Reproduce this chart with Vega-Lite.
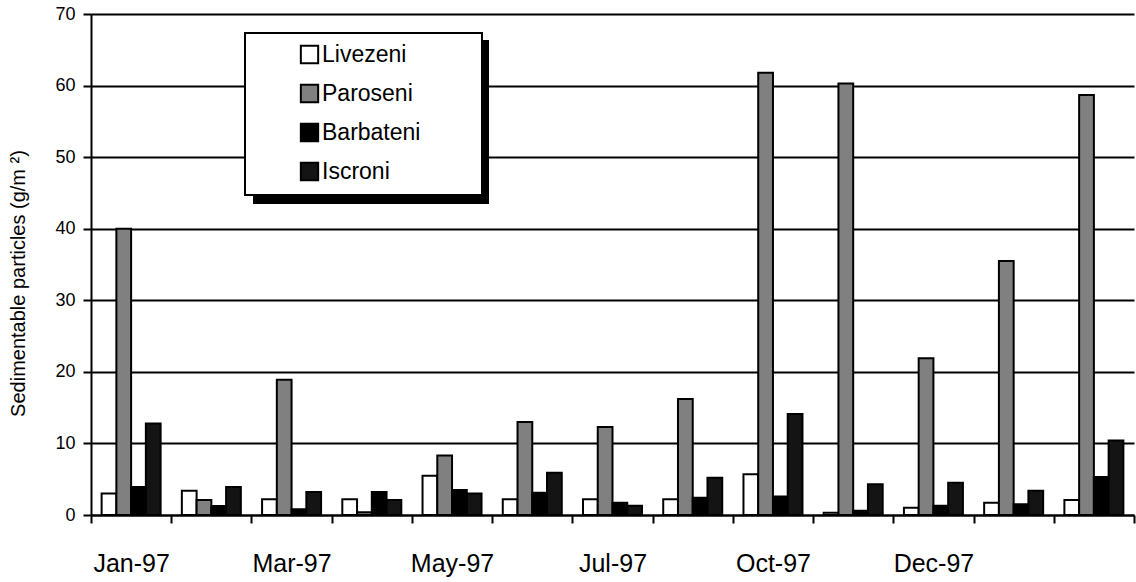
{
  "$schema": "https://vega.github.io/schema/vega-lite/v6.json",
  "width": 1043,
  "height": 501,
  "autosize": "none",
  "padding": {"left": 91, "top": 14, "right": 2, "bottom": 67},
  "background": "white",
  "config": {
    "view": {"stroke": null},
    "font": "Liberation Sans",
    "axis": {
      "domainColor": "black",
      "domainWidth": 2,
      "tickColor": "black",
      "tickWidth": 2,
      "tickSize": 8,
      "gridColor": "black",
      "gridWidth": 2,
      "gridOpacity": 1,
      "labelColor": "black",
      "labelFont": "Liberation Sans",
      "titleFont": "Liberation Sans",
      "titleColor": "black",
      "titleFontWeight": "normal"
    },
    "legend": {
      "labelFont": "Liberation Sans",
      "labelColor": "black",
      "strokeWidth": 2
    }
  },
  "data": {
    "values": [
      {"month": "Jan-97", "site": "Livezeni", "value": 3.0},
      {"month": "Jan-97", "site": "Paroseni", "value": 40.0},
      {"month": "Jan-97", "site": "Barbateni", "value": 3.9},
      {"month": "Jan-97", "site": "Iscroni", "value": 12.8},
      {"month": "Feb-97", "site": "Livezeni", "value": 3.4},
      {"month": "Feb-97", "site": "Paroseni", "value": 2.1},
      {"month": "Feb-97", "site": "Barbateni", "value": 1.25},
      {"month": "Feb-97", "site": "Iscroni", "value": 3.9},
      {"month": "Mar-97", "site": "Livezeni", "value": 2.2},
      {"month": "Mar-97", "site": "Paroseni", "value": 18.9},
      {"month": "Mar-97", "site": "Barbateni", "value": 0.8},
      {"month": "Mar-97", "site": "Iscroni", "value": 3.2},
      {"month": "Apr-97", "site": "Livezeni", "value": 2.2},
      {"month": "Apr-97", "site": "Paroseni", "value": 0.4},
      {"month": "Apr-97", "site": "Barbateni", "value": 3.2},
      {"month": "Apr-97", "site": "Iscroni", "value": 2.1},
      {"month": "May-97", "site": "Livezeni", "value": 5.5},
      {"month": "May-97", "site": "Paroseni", "value": 8.3},
      {"month": "May-97", "site": "Barbateni", "value": 3.5},
      {"month": "May-97", "site": "Iscroni", "value": 3.0},
      {"month": "Jun-97", "site": "Livezeni", "value": 2.2},
      {"month": "Jun-97", "site": "Paroseni", "value": 13.0},
      {"month": "Jun-97", "site": "Barbateni", "value": 3.1},
      {"month": "Jun-97", "site": "Iscroni", "value": 5.9},
      {"month": "Jul-97", "site": "Livezeni", "value": 2.2},
      {"month": "Jul-97", "site": "Paroseni", "value": 12.3},
      {"month": "Jul-97", "site": "Barbateni", "value": 1.7},
      {"month": "Jul-97", "site": "Iscroni", "value": 1.3},
      {"month": "Aug-97", "site": "Livezeni", "value": 2.2},
      {"month": "Aug-97", "site": "Paroseni", "value": 16.2},
      {"month": "Aug-97", "site": "Barbateni", "value": 2.4},
      {"month": "Aug-97", "site": "Iscroni", "value": 5.2},
      {"month": "Oct-97", "site": "Livezeni", "value": 5.7},
      {"month": "Oct-97", "site": "Paroseni", "value": 61.8},
      {"month": "Oct-97", "site": "Barbateni", "value": 2.6},
      {"month": "Oct-97", "site": "Iscroni", "value": 14.1},
      {"month": "Nov-97", "site": "Livezeni", "value": 0.3},
      {"month": "Nov-97", "site": "Paroseni", "value": 60.3},
      {"month": "Nov-97", "site": "Barbateni", "value": 0.6},
      {"month": "Nov-97", "site": "Iscroni", "value": 4.3},
      {"month": "Dec-97", "site": "Livezeni", "value": 1.0},
      {"month": "Dec-97", "site": "Paroseni", "value": 21.9},
      {"month": "Dec-97", "site": "Barbateni", "value": 1.3},
      {"month": "Dec-97", "site": "Iscroni", "value": 4.5},
      {"month": "Jan-98", "site": "Livezeni", "value": 1.7},
      {"month": "Jan-98", "site": "Paroseni", "value": 35.5},
      {"month": "Jan-98", "site": "Barbateni", "value": 1.5},
      {"month": "Jan-98", "site": "Iscroni", "value": 3.4},
      {"month": "Feb-98", "site": "Livezeni", "value": 2.1},
      {"month": "Feb-98", "site": "Paroseni", "value": 58.7},
      {"month": "Feb-98", "site": "Barbateni", "value": 5.3},
      {"month": "Feb-98", "site": "Iscroni", "value": 10.4}
    ]
  },
  "mark": {"type": "bar", "stroke": "black", "strokeWidth": 2},
  "encoding": {
    "x": {
      "field": "month",
      "type": "nominal",
      "sort": ["Jan-97", "Feb-97", "Mar-97", "Apr-97", "May-97", "Jun-97", "Jul-97", "Aug-97", "Oct-97", "Nov-97", "Dec-97", "Jan-98", "Feb-98"],
      "scale": {"paddingInner": 0, "paddingOuter": 0},
      "axis": {
        "title": null,
        "tickBand": "extent",
        "labelAngle": 0,
        "labelFontSize": 25,
        "labelPadding": 28,
        "labelOverlap": false,
        "labelExpr": "indexof(['Jan-97','Mar-97','May-97','Jul-97','Oct-97','Dec-97'], datum.value) >= 0 ? datum.label : ''"
      }
    },
    "xOffset": {
      "field": "site",
      "type": "nominal",
      "sort": ["Livezeni", "Paroseni", "Barbateni", "Iscroni"],
      "scale": {"paddingInner": 0, "paddingOuter": 0.72}
    },
    "y": {
      "field": "value",
      "type": "quantitative",
      "scale": {"domain": [0, 70], "nice": false},
      "axis": {
        "values": [0, 10, 20, 30, 40, 50, 60, 70],
        "title": "Sedimentable particles (g/m ²)",
        "titleFontSize": 20,
        "titleX": -73,
        "titleY": 269,
        "titleAngle": -90,
        "titleAlign": "center",
        "titleBaseline": "middle",
        "labelFontSize": 18,
        "labelPadding": 8
      }
    },
    "fill": {
      "field": "site",
      "type": "nominal",
      "scale": {
        "domain": ["Livezeni", "Paroseni", "Barbateni", "Iscroni"],
        "range": ["#ffffff", "#808080", "#000000", "#141414"]
      },
      "legend": {
        "orient": "none",
        "legendX": 154,
        "legendY": 19,
        "title": null,
        "symbolType": "square",
        "symbolSize": 300,
        "symbolStrokeColor": "black",
        "symbolStrokeWidth": 2,
        "labelFontSize": 23,
        "labelOffset": 1,
        "symbolOffset": 43,
        "rowPadding": 12,
        "padding": 10,
        "strokeColor": "black",
        "fillColor": "white",
        "labelExpr": "datum.label + '        \u200b'",
        "zindex": 2
      }
    },
    "opacity": {
      "field": "site",
      "type": "ordinal",
      "scale": {"range": [1, 1, 1, 1]},
      "legend": {
        "orient": "none",
        "legendX": 163,
        "legendY": 27,
        "title": null,
        "symbolType": "square",
        "symbolSize": 300,
        "symbolOpacity": 0,
        "symbolStrokeColor": "black",
        "symbolStrokeWidth": 2,
        "labelFontSize": 23,
        "labelOffset": 1,
        "symbolOffset": 43,
        "rowPadding": 12,
        "padding": 10,
        "labelOpacity": 0,
        "strokeColor": "black",
        "fillColor": "black",
        "labelExpr": "'\u200b                       \u200b'",
        "zindex": 1
      }
    }
  }
}
